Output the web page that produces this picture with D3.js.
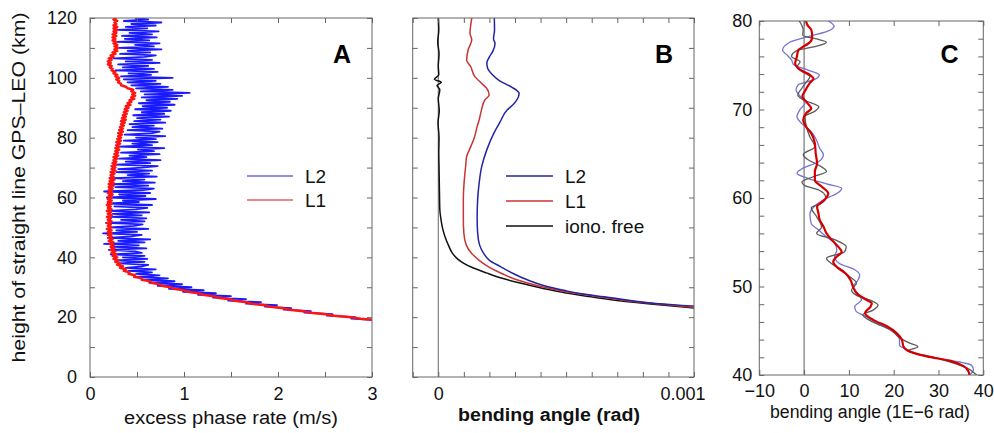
<!DOCTYPE html>
<html><head><meta charset="utf-8">
<script src="https://cdn.jsdelivr.net/npm/d3@7"></script>
<style>
html,body{margin:0;padding:0;background:#fff;}
svg{display:block;font-family:"Liberation Sans",Arial,Helvetica,sans-serif;}
</style></head><body>
<svg id="chart" width="994" height="433"></svg>
<script>
// ---------- Panel A: excess phase rate (m/s), sampled every 0.5 km from 19 km ----------
const phaseHeightStart = 19, phaseHeightStep = 0.5;
const phaseRateL2 = [
  3.08, 2.78, 2.82, 2.52, 2.58, 2.28, 2.35, 2.06, 2.14, 1.86,
  1.99, 1.66, 1.82, 1.47, 1.66, 1.31, 1.50, 1.15, 1.34, 0.99,
  1.21, 0.84, 1.08, 0.72, 0.98, 0.63, 0.90, 0.55, 0.83, 0.49,
  0.74, 0.49, 0.66, 0.41, 0.70, 0.38, 0.55, 0.62, 0.31, 0.58,
  0.27, 0.61, 0.35, 0.58, 0.22, 0.55, 0.48, 0.20, 0.60, 0.26,
  0.52, 0.15, 0.58, 0.30, 0.64, 0.19, 0.44, 0.55, 0.14, 0.50,
  0.28, 0.62, 0.21, 0.47, 0.56, 0.17, 0.58, 0.33, 0.60, 0.22,
  0.55, 0.24, 0.63, 0.20, 0.49, 0.61, 0.26, 0.66, 0.19, 0.52,
  0.35, 0.70, 0.18, 0.59, 0.31, 0.64, 0.15, 0.56, 0.68, 0.27,
  0.62, 0.22, 0.69, 0.35, 0.58, 0.24, 0.71, 0.40, 0.63, 0.28,
  0.66, 0.30, 0.55, 0.72, 0.27, 0.64, 0.38, 0.75, 0.31, 0.60,
  0.42, 0.74, 0.33, 0.68, 0.51, 0.79, 0.30, 0.66, 0.45, 0.72,
  0.36, 0.70, 0.49, 0.80, 0.37, 0.66, 0.74, 0.40, 0.77, 0.45,
  0.68, 0.42, 0.80, 0.47, 0.75, 0.50, 0.84, 0.46, 0.79, 0.55,
  0.86, 0.48, 0.82, 0.56, 0.90, 0.52, 0.85, 0.60, 0.93, 0.55,
  0.98, 0.58, 1.06, 0.54, 0.88, 0.49, 0.83, 0.44, 0.75, 0.40,
  0.70, 0.36, 0.88, 0.33, 0.65, 0.41, 0.72, 0.27, 0.68, 0.35,
  0.62, 0.30, 0.74, 0.38, 0.66, 0.25, 0.58, 0.70, 0.32, 0.64,
  0.40, 0.76, 0.31, 0.68, 0.48, 0.74, 0.29, 0.63, 0.37, 0.71,
  0.34, 0.66, 0.42, 0.73, 0.30, 0.61, 0.38, 0.70, 0.44, 0.76,
  0.36, 0.62, 0.48
];
const phaseRateL1 = [
  3.05, 2.88, 2.78, 2.60, 2.51, 2.35, 2.27, 2.12, 2.06, 1.92,
  1.86, 1.72, 1.67, 1.54, 1.49, 1.36, 1.32, 1.20, 1.16, 1.04,
  1.00, 0.89, 0.86, 0.76, 0.74, 0.65, 0.64, 0.55, 0.55, 0.47,
  0.48, 0.41, 0.42, 0.36, 0.38, 0.32, 0.35, 0.29, 0.32, 0.27,
  0.30, 0.25, 0.29, 0.24, 0.28, 0.23, 0.27, 0.22, 0.26, 0.22,
  0.25, 0.21, 0.25, 0.20, 0.24, 0.20, 0.23, 0.19, 0.23, 0.19,
  0.23, 0.18, 0.23, 0.19, 0.22, 0.18, 0.23, 0.19, 0.22, 0.18,
  0.23, 0.19, 0.22, 0.18, 0.23, 0.19, 0.22, 0.18, 0.23, 0.19,
  0.23, 0.19, 0.23, 0.20, 0.24, 0.19, 0.23, 0.20, 0.24, 0.20,
  0.25, 0.20, 0.25, 0.21, 0.26, 0.21, 0.25, 0.22, 0.26, 0.22,
  0.27, 0.23, 0.27, 0.23, 0.28, 0.24, 0.28, 0.25, 0.29, 0.25,
  0.30, 0.26, 0.30, 0.27, 0.31, 0.27, 0.31, 0.28, 0.32, 0.28,
  0.33, 0.29, 0.33, 0.30, 0.34, 0.30, 0.35, 0.31, 0.35, 0.32,
  0.36, 0.33, 0.37, 0.33, 0.38, 0.34, 0.38, 0.35, 0.39, 0.36,
  0.40, 0.37, 0.41, 0.38, 0.43, 0.40, 0.44, 0.42, 0.47, 0.44,
  0.48, 0.45, 0.48, 0.44, 0.46, 0.40, 0.38, 0.33, 0.33, 0.30,
  0.31, 0.28, 0.31, 0.27, 0.29, 0.25, 0.27, 0.23, 0.24, 0.21,
  0.23, 0.19, 0.22, 0.19, 0.23, 0.20, 0.25, 0.22, 0.27, 0.24,
  0.29, 0.26, 0.30, 0.26, 0.29, 0.25, 0.28, 0.24, 0.27, 0.24,
  0.28, 0.24, 0.28, 0.25, 0.29, 0.25, 0.29, 0.25, 0.28, 0.26,
  0.29, 0.25, 0.28
];

// ---------- Panel B: bending angle profiles, [height km, angle in microrad] ----------
const bendL2 = [
  [120,219],[116,220],[113,216],[111.5,222],[109,214],[107,200],[105,190],[103.5,192],
  [101,212],[99,240],[97,285],[94.8,316],[93,310],[91,292],[89.3,270],[85,240],
  [81.6,218],[76,190],[70.4,170],[65,160],[59.3,154],[53,152],[48.1,154],[44,162],
  [41.4,177],[39,200],[36.9,243],[34.5,295],[32.4,350],[30.5,415],[29,490],[27.8,560],
  [26.8,650],[25.6,750],[24.6,850],[23.7,1000],[22.5,1150]
];
const bendL1 = [
  [120,131],[117,126],[114.9,124],[112.7,131],[109.4,117],[106,111],[103.7,127],[100.4,143],
  [98.2,169],[96.5,189],[94.3,199],[92.6,182],[89.3,169],[86,160],[83.7,152],[80,141],
  [77,127],[73.7,111],[70.4,107],[65,101],[59.3,98],[53,98],[48.1,100],[44,110],
  [41.4,130],[39,160],[36.9,195],[34.5,250],[32.4,310],[30.5,390],[29,470],[27.8,550],
  [26.8,630],[25.6,730],[24.6,840],[23.3,1000],[22,1160]
];
const bendIonoFree = [
  [120,0],[116,2],[112,-2],[108,3],[104,0],[101,2],[99.5,-15],[98.5,12],[97.5,-5],
  [96,6],[93,0],[89,4],[85,-1],[80,3],[75,2],[70,3],[65,4],[60,5],[56,6],[53,10],
  [50,16],[47,26],[44,40],[41.4,55],[39.5,75],[38,100],[36.5,135],[34.8,188],[33,250],
  [31.4,320],[29.6,410],[28.1,500],[26.9,590],[25.9,670],[24.5,820],[23.1,1000],[22,1150]
];

// ---------- Panel C: bending angle 40-80 km, [height km, angle in 1E-6 rad] ----------
const upperL2 = [
  [80,5.4],[79.4,6.7],[78.8,5.0],[78.3,1.3],[77.6,-3.2],[76.7,-4.8],[76.2,-3.9],[75.6,-2.8],
  [75.1,-2.4],[74.5,0.6],[73.9,3.4],[73.4,2.4],[72.8,-1.3],[72.2,-1.8],[71.5,-0.9],[70.7,0.2],
  [70.0,-0.9],[69.2,-1.6],[68.4,-0.5],[67.5,1.6],[66.5,2.8],[65.6,3.5],[64.9,4.3],[64.1,3.2],
  [63.3,-0.5],[62.8,-1.6],[62.2,1.0],[61.6,5.0],[61.1,8.4],[60.5,7.3],[59.8,4.3],[58.9,2.0],
  [58.2,1.3],[57.1,1.6],[56.4,3.2],[55.6,5.0],[54.9,6.8],[54.1,7.3],[53.4,6.8],[52.6,7.9],
  [51.9,11.3],[51.3,12.4],[50.7,12.0],[50.0,10.9],[49.2,12.0],[48.5,12.8],[47.7,11.3],[47.2,11.6],
  [46.6,13.9],[45.8,16.4],[44.9,19.8],[44.0,21.3],[43.4,21.3],[42.9,22.8],[42.1,27.4],[41.6,33.3],
  [41.1,37.4],[40.6,37.8],[40.0,36.9]
];
const upperIonoFree = [
  [80,-1.1],[79.5,-0.5],[79.0,-0.2],[78.4,-0.3],[77.9,3.3],[77.6,5.0],[77.1,2.4],[76.7,-1.4],
  [76.0,-2.8],[75.4,-0.9],[74.8,-1.6],[74.3,-0.5],[73.7,1.3],[73.1,0.5],[72.4,-0.5],[71.6,-1.4],
  [71.1,-0.2],[70.3,3.3],[69.8,2.4],[69.2,0.2],[68.1,0.5],[66.9,1.3],[65.8,2.4],[64.9,-0.2],
  [64.3,1.0],[63.7,3.3],[63.0,5.0],[62.4,2.0],[61.8,-0.5],[61.4,0.2],[60.9,3.3],[60.1,4.8],
  [59.4,3.9],[58.9,1.6],[57.9,2.8],[56.7,3.9],[56.0,2.8],[55.3,6.8],[54.5,9.4],[53.9,9.0],
  [53.2,5.0],[52.6,6.1],[51.9,8.4],[51.1,10.2],[50.4,11.7],[49.6,10.6],[49.0,11.7],[48.5,14.6],
  [47.9,16.5],[47.3,15.3],[46.8,13.1],[46.0,15.3],[45.1,19.4],[44.2,21.3],[43.6,23.6],[43.2,25.4],
  [42.7,23.1],[42.1,28.1],[41.4,33.0],[40.8,36.3],[40.0,38.5]
];
const upperL1 = [
  [80,0.4],[79.5,0.8],[79.0,1.6],[78.4,1.8],[77.9,1.7],[77.4,0.8],[77.1,-0.2],[76.7,-1.3],
  [76.0,-1.6],[75.2,-2.0],[74.5,-0.9],[73.9,1.3],[73.5,2.1],[73.0,1.3],[72.1,0.2],[71.5,-0.4],
  [70.7,0.8],[70.1,1.6],[69.6,0.5],[68.8,-0.2],[68.0,0.5],[67.3,1.6],[66.2,2.4],[65.0,2.6],
  [63.9,2.9],[63.0,2.4],[62.0,2.4],[61.3,3.9],[60.5,5.4],[59.8,4.6],[59.0,2.9],[58.3,3.2],
  [57.5,3.5],[56.7,4.4],[56.0,5.0],[55.3,6.1],[54.5,7.6],[53.9,8.4],[53.4,7.3],[52.8,6.5],
  [52.2,7.3],[51.5,9.2],[50.7,10.4],[50.0,10.9],[49.2,11.8],[48.5,13.9],[48.1,15.1],[47.7,14.8],
  [47.0,13.6],[46.2,15.5],[45.5,18.5],[44.7,20.7],[44.0,21.8],[43.2,22.2],[42.5,24.4],[42.1,27.4],
  [41.6,32.6],[41.0,35.6],[40.4,36.7],[40.0,36.9]
];

// ---------- axis ticks ----------
const ticksA_x = [0, 0.5, 1, 1.5, 2, 2.5, 3];
const labelsA_x = [0, 1, 2, 3];
const ticksHeight = [0, 10, 20, 30, 40, 50, 60, 70, 80, 90, 100, 110, 120];
const labelsHeight = [0, 20, 40, 60, 80, 100, 120];
const ticksB_x = [-0.0001, 0, 0.0001, 0.0002, 0.0003, 0.0004, 0.0005, 0.0006, 0.0007, 0.0008, 0.0009, 0.001];
const labelsB_x = [0, 0.001];
const ticksC_x = [-10, 0, 10, 20, 30, 40];
const ticksC_y = [40, 42, 44, 46, 48, 50, 52, 54, 56, 58, 60, 62, 64, 66, 68, 70, 72, 74, 76, 78, 80];
const labelsC_y = [40, 50, 60, 70, 80];

const MICRO = 1e-6;
const TICK_FONT = 18, LABEL_FONT = 18;
const svg = d3.select("#chart");

function drawAxes(g, x, y, cfg) {
  const [x0, x1] = x.range(), [y0, y1] = y.range(); // y0 bottom, y1 top
  const bottom = g.append("g").attr("transform", `translate(0,${y0})`)
    .call(d3.axisBottom(x).tickValues(cfg.xTicks).tickSize(-5).tickPadding(cfg.xPad || 10)
      .tickFormat(d => cfg.xLabels.includes(d) ? cfg.xFmt(d) : ""));
  g.append("g").attr("transform", `translate(0,${y1})`)
    .call(d3.axisTop(x).tickValues(cfg.xTicks).tickSize(-5).tickFormat(""));
  g.append("g").attr("transform", `translate(${x0},0)`)
    .call(d3.axisLeft(y).tickValues(cfg.yTicks).tickSize(-5).tickPadding(cfg.yPad || 10)
      .tickFormat(d => cfg.yLabels.includes(d) ? cfg.yFmt(d) : ""));
  g.append("g").attr("transform", `translate(${x1},0)`)
    .call(d3.axisRight(y).tickValues(cfg.yTicks).tickSize(-5).tickFormat(""));
  g.selectAll(".domain").remove();
  g.selectAll(".tick line").attr("stroke", "#666");
  g.selectAll(".tick text").attr("fill", "#111").style("font-size", TICK_FONT + "px")
    .attr("font-family", null);
  g.append("rect").attr("x", x0).attr("y", y1).attr("width", x1 - x0).attr("height", y0 - y1)
    .attr("fill", "none").attr("stroke", "#666").attr("stroke-width", 1);
  return bottom;
}

function clip(id, x, y) {
  const [x0, x1] = x.range(), [y0, y1] = y.range();
  svg.append("clipPath").attr("id", id).append("rect")
    .attr("x", x0).attr("y", y1).attr("width", x1 - x0).attr("height", y0 - y1);
  return `url(#${id})`;
}

function legend(g, items, x0, x1, yStart, gap) {
  items.forEach((it, i) => {
    const yy = yStart + i * gap;
    g.append("line").attr("x1", x0).attr("x2", x1).attr("y1", yy).attr("y2", yy)
      .attr("stroke", it.color).attr("stroke-width", it.width || 1.3);
    g.append("text").attr("x", x1 + 12).attr("y", yy).attr("dy", "0.36em")
      .style("font-size", "19px").attr("fill", "#111").text(it.label);
  });
}

function axisTitle(g, x, y, text, width, opts = {}) {
  const t = g.append("text").attr("x", x).attr("y", y).attr("text-anchor", "middle")
    .attr("textLength", width).attr("lengthAdjust", "spacingAndGlyphs")
    .style("font-size", LABEL_FONT + "px").attr("fill", "#111").text(text);
  if (opts.bold) t.style("font-weight", "bold");
  if (opts.rotate) t.attr("transform", `rotate(-90,${x},${y})`);
  return t;
}

// ================= Panel A =================
{
  const x = d3.scaleLinear().domain([0, 3]).range([90, 372]);
  const y = d3.scaleLinear().domain([0, 120]).range([377, 18]);
  const g = svg.append("g");
  const cp = clip("clipA", x, y);
  const line = d3.line().x(d => x(d[0])).y(d => y(d[1]));
  const l2 = phaseRateL2.map((v, i) => [v, phaseHeightStart + i * phaseHeightStep]);
  const l1 = phaseRateL1.map((v, i) => [v, phaseHeightStart + i * phaseHeightStep]);
  g.append("path").attr("clip-path", cp).attr("d", line(l2))
    .attr("fill", "none").attr("stroke", "#1a1aff").attr("stroke-width", 1.8)
    .attr("stroke-linejoin", "round");
  g.append("path").attr("clip-path", cp).attr("d", line(l1))
    .attr("fill", "none").attr("stroke", "#ff1414").attr("stroke-width", 2.5)
    .attr("stroke-linejoin", "round");
  drawAxes(g, x, y, {xTicks: ticksA_x, xLabels: labelsA_x, xFmt: d3.format("d"),
    yTicks: ticksHeight, yLabels: labelsHeight, yFmt: d3.format("d"), yPad: 13});
  legend(g, [{label: "L2", color: "#6b6bd8"}, {label: "L1", color: "#e06060"}], 247, 293, 176, 24);
  axisTitle(g, x(1.5), 424, "excess phase rate (m/s)", 214);
  axisTitle(g, 25, 187.5, "height of straight line GPS\u2013LEO (km)", 350, {rotate: true});
  g.append("text").attr("x", 342).attr("y", 63).attr("text-anchor", "middle")
    .style("font-size", "25px").style("font-weight", "bold").text("A");
}

// ================= Panel B =================
{
  const x = d3.scaleLinear().domain([-0.0001, 0.001]).range([412.7, 694]);
  const y = d3.scaleLinear().domain([0, 120]).range([377, 18]);
  const g = svg.append("g");
  const cp = clip("clipB", x, y);
  g.append("line").attr("x1", x(0)).attr("x2", x(0)).attr("y1", y(0)).attr("y2", y(120))
    .attr("stroke", "#666").attr("stroke-width", 1);
  const line = d3.line().curve(d3.curveMonotoneY).x(d => x(d[1] * MICRO)).y(d => y(d[0]));
  [[bendIonoFree, "#111111"], [bendL1, "#c83434"], [bendL2, "#2323a6"]].forEach(([s, c]) => {
    g.append("path").attr("clip-path", cp).attr("d", line(s))
      .attr("fill", "none").attr("stroke", c).attr("stroke-width", 1.5);
  });
  const bottom = drawAxes(g, x, y, {xTicks: ticksB_x, xLabels: labelsB_x, xFmt: d3.format("~g"),
    yTicks: ticksHeight, yLabels: [], yFmt: d3.format("d")});
  bottom.selectAll(".tick text").filter(d => d === 0.001).attr("text-anchor", "end").attr("x", 11);
  legend(g, [{label: "L2", color: "#2323a6"}, {label: "L1", color: "#c83434"},
    {label: "iono. free", color: "#111111"}], 506, 553, 176, 25);
  axisTitle(g, 549, 421, "bending angle (rad)", 182, {bold: true});
  g.append("text").attr("x", 664).attr("y", 63).attr("text-anchor", "middle")
    .style("font-size", "25px").style("font-weight", "bold").text("B");
}

// ================= Panel C =================
{
  const x = d3.scaleLinear().domain([-10, 40]).range([759.3, 983.3]);
  const y = d3.scaleLinear().domain([40, 80]).range([375, 21]);
  const g = svg.append("g");
  const cp = clip("clipC", x, y);
  g.append("line").attr("x1", x(0)).attr("x2", x(0)).attr("y1", y(40)).attr("y2", y(80))
    .attr("stroke", "#777").attr("stroke-width", 1.2);
  const line = d3.line().curve(d3.curveMonotoneY).x(d => x(d[1])).y(d => y(d[0]));
  g.append("path").attr("clip-path", cp).attr("d", line(upperL2))
    .attr("fill", "none").attr("stroke", "#7474d4").attr("stroke-width", 1.3);
  g.append("path").attr("clip-path", cp).attr("d", line(upperIonoFree))
    .attr("fill", "none").attr("stroke", "#5a5a5a").attr("stroke-width", 1.3);
  g.append("path").attr("clip-path", cp).attr("d", line(upperL1))
    .attr("fill", "none").attr("stroke", "#d40000").attr("stroke-width", 2.2);
  drawAxes(g, x, y, {xTicks: ticksC_x, xLabels: ticksC_x, xFmt: d3.format("d"),
    yTicks: ticksC_y, yLabels: labelsC_y, yFmt: d3.format("d"), yPad: 7, xPad: 9});
  axisTitle(g, 870, 418, "bending angle (1E\u22126 rad)", 200);
  g.append("text").attr("x", 949.5).attr("y", 63).attr("text-anchor", "middle")
    .style("font-size", "25px").style("font-weight", "bold").text("C");
}
</script>
</body></html>
